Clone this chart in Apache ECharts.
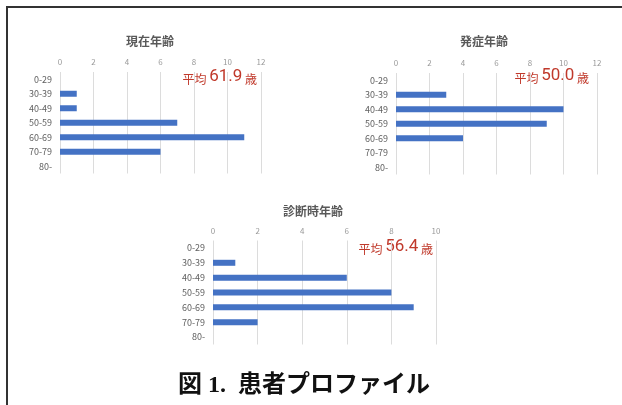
<!DOCTYPE html>
<html>
<head>
<meta charset="utf-8">
<script src="https://cdn.jsdelivr.net/npm/echarts@6/dist/echarts.min.js"></script>
<style>
html,body{margin:0;padding:0;background:#fff;}
#c{width:622px;height:405px;}
</style>
</head>
<body>
<div id="c"></div>
<script>
const categories = ['0-29','30-39','40-49','50-59','60-69','70-79','80-'];
const currentAge = [0,1,1,7,11,6,0];
const onsetAge = [0,3,10,9,4,0,0];
const diagnosisAge = [0,1,6,8,9,2,0];
const chartTitles = ['現在年齢','発症年齢','診断時年齢'];
const means = ['61.9','50.0','56.4'];
const xMax = [12,12,10];
const caption = '図 1.  患者プロファイル';

const chart = echarts.init(document.getElementById('c'));
const grids = [
  {left:60, top:72, width:201, height:101.5},
  {left:396, top:73, width:201, height:101.5},
  {left:213, top:240.5, width:223, height:104}
];
const seriesData = [currentAge, onsetAge, diagnosisAge];
const font = "'Noto Sans CJK JP', sans-serif";
const titleStyle = {fontSize:12, fontWeight:'bold', color:'#595959', fontFamily:font};

const option = {
  backgroundColor:'#fff',
  animation:false,
  title: [
    {text:chartTitles[0], left:150, top:35, padding:0, textAlign:'center', textStyle:titleStyle},
    {text:chartTitles[1], left:484, top:35, padding:0, textAlign:'center', textStyle:titleStyle},
    {text:chartTitles[2], left:313, top:205, padding:0, textAlign:'center', textStyle:titleStyle},
    {text:caption, left:304, top:374, padding:0, textAlign:'center', textStyle:{fontSize:24, fontWeight:'bold', color:'#111', fontFamily:"'Liberation Serif','Noto Sans CJK JP', serif"}}
  ],
  grid: grids.map(g=>Object.assign({containLabel:false}, g)),
  xAxis: xMax.map((m,i)=>({
    type:'value', gridIndex:i, position:'top', min:0, max:m, interval:2,
    axisLine:{show:false}, axisTick:{show:false},
    axisLabel:{fontSize:8, color:'#999', margin:6, fontFamily:font},
    splitLine:{show:true, lineStyle:{color:'#dcdcdc', width:1}}
  })),
  yAxis: [0,1,2].map(i=>({
    type:'category', gridIndex:i, data:categories, inverse:true,
    axisLine:{show:false}, axisTick:{show:false},
    axisLabel:{fontSize:9, color:'#606060', margin:8, fontFamily:font}
  })),
  series: seriesData.map((d,i)=>({
    type:'bar', xAxisIndex:i, yAxisIndex:i, data:d, barWidth:6,
    itemStyle:{color:'#4472C4'}
  })),
  graphic: [
    {type:'polyline', shape:{points:[[7,405],[7,7],[622,7]]}, style:{stroke:'#333', lineWidth:2, fill:null}},
    ...[[257,79],[589,78],[433,249]].map((p,i)=>({
      type:'text', right: 622 - p[0], top: p[1]-11,
      style:{
        text:'{a|平均 }{b|'+means[i]+'}{a| 歳}',
        rich:{
          a:{fontSize:12, fill:'#C0392B', fontFamily:font, verticalAlign:'bottom'},
          b:{fontSize:17, fill:'#C0392B', fontFamily:'Roboto, sans-serif', verticalAlign:'bottom'}
        }
      }
    }))
  ]
};
chart.setOption(option);
</script>
</body>
</html>
